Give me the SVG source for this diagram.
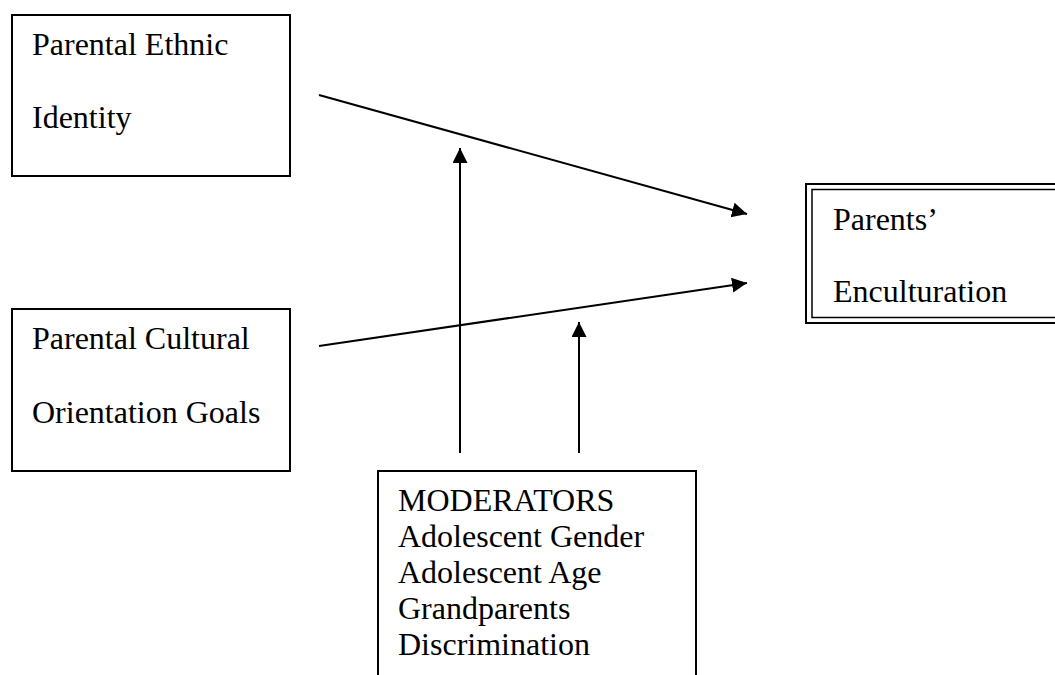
<svg xmlns="http://www.w3.org/2000/svg" width="1055" height="675" viewBox="0 0 1055 675">
<style>
.box{fill:#fff;stroke:#000;stroke-width:2}
.t{font-family:"Liberation Serif","Times New Roman",serif;font-size:32px;fill:#000}
.c{stroke:#000;stroke-width:2;fill:none;marker-end:url(#ah)}
</style>
<defs>
<marker id="ah" markerWidth="16" markerHeight="16" refX="15" refY="7.5" orient="auto" markerUnits="userSpaceOnUse">
<path d="M0,0 L15,7.5 L0,15 Z" fill="#000"/>
</marker>
</defs>
<rect width="1055" height="675" fill="#fff"/>
<g id="n-ethnic">
<rect class="box" x="12" y="15" width="278" height="161"/>
<text class="t" x="32" y="55">Parental Ethnic</text>
<text class="t" x="32" y="128">Identity</text>
</g>
<g id="n-cultural">
<rect class="box" x="12" y="309" width="278" height="162"/>
<text class="t" x="32" y="349">Parental Cultural</text>
<text class="t" x="32" y="423">Orientation Goals</text>
</g>
<g id="n-enculturation">
<rect x="806" y="184" width="260" height="139" fill="#fff" stroke="#000" stroke-width="2"/>
<rect x="812" y="189.5" width="260" height="128" fill="none" stroke="#000" stroke-width="1.5"/>
<text class="t" x="833" y="230">Parents’</text>
<text class="t" x="833" y="302">Enculturation</text>
</g>
<g id="n-moderators">
<rect class="box" x="378" y="471" width="318" height="220"/>
<text class="t" x="398" y="511">MODERATORS</text>
<text class="t" x="398" y="547">Adolescent Gender</text>
<text class="t" x="398" y="583">Adolescent Age</text>
<text class="t" x="398" y="619">Grandparents</text>
<text class="t" x="398" y="655">Discrimination</text>
</g>
<g id="connectors">
<line class="c" x1="319" y1="95" x2="747" y2="214"/>
<line class="c" x1="319" y1="346" x2="747" y2="283"/>
<line class="c" x1="460" y1="453" x2="460" y2="148"/>
<line class="c" x1="579" y1="453" x2="579" y2="322"/>
</g>
</svg>
